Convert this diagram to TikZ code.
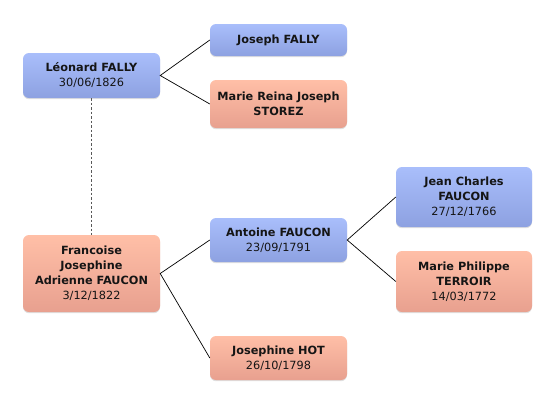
\documentclass[tikz,border=0pt]{standalone}
\usepackage{fontspec}
\setmainfont{DejaVu Sans}
\usetikzlibrary{shadows}
\definecolor{bluetop}{HTML}{A9BEFB}
\definecolor{bluebot}{HTML}{8DA1E1}
\definecolor{saltop}{HTML}{FFBFA7}
\definecolor{salbot}{HTML}{E8A08F}
\definecolor{txt}{HTML}{151515}
\begin{document}
\begin{tikzpicture}[x=1pt,y=-1pt,
  person/.style={rounded corners=6pt, align=center, text=txt,
    font=\fontsize{11.3}{15}\selectfont, inner sep=0pt,
    drop shadow={opacity=0.25, shadow xshift=0pt, shadow yshift=-1.2pt}},
  male/.style={person, top color=bluetop, bottom color=bluebot},
  female/.style={person, top color=saltop, bottom color=salbot},
  link/.style={draw=black, line width=0.7pt},
  spouse/.style={draw=black!65, line width=1.1pt, dash pattern=on 2.5pt off 2pt}]
\useasboundingbox (0,0) rectangle (556,405);
\node[male, minimum width=137pt, minimum height=45pt] (leo) at (91.5,75.5)
  {\textbf{Léonard FALLY}\\30/06/1826};
\node[male, minimum width=137pt, minimum height=32pt] (jos) at (278.5,40)
  {\textbf{Joseph FALLY}};
\node[female, minimum width=137pt, minimum height=48pt] (mar) at (278.5,104)
  {\textbf{Marie Reina Joseph}\\\textbf{STOREZ}};
\node[female, minimum width=137pt, minimum height=77pt] (fra) at (91.5,273.5)
  {\textbf{Francoise}\\\textbf{Josephine}\\\textbf{Adrienne FAUCON}\\3/12/1822};
\node[male, minimum width=137pt, minimum height=44pt] (ant) at (278.5,240)
  {\textbf{Antoine FAUCON}\\23/09/1791};
\node[female, minimum width=137pt, minimum height=44pt] (hot) at (278.5,358)
  {\textbf{Josephine HOT}\\26/10/1798};
\node[male, minimum width=136pt, minimum height=60pt] (jea) at (464,197)
  {\textbf{Jean Charles}\\\textbf{FAUCON}\\27/12/1766};
\node[female, minimum width=136pt, minimum height=61pt] (ter) at (464,281.5)
  {\textbf{Marie Philippe}\\\textbf{TERROIR}\\14/03/1772};
\draw[spouse] (leo.south) -- (fra.north);
\draw[link] (jos.west) -- (leo.east) -- (mar.west);
\draw[link] (ant.west) -- (fra.east) -- (hot.west);
\draw[link] (jea.west) -- (ant.east) -- (ter.west);
\end{tikzpicture}
\end{document}
